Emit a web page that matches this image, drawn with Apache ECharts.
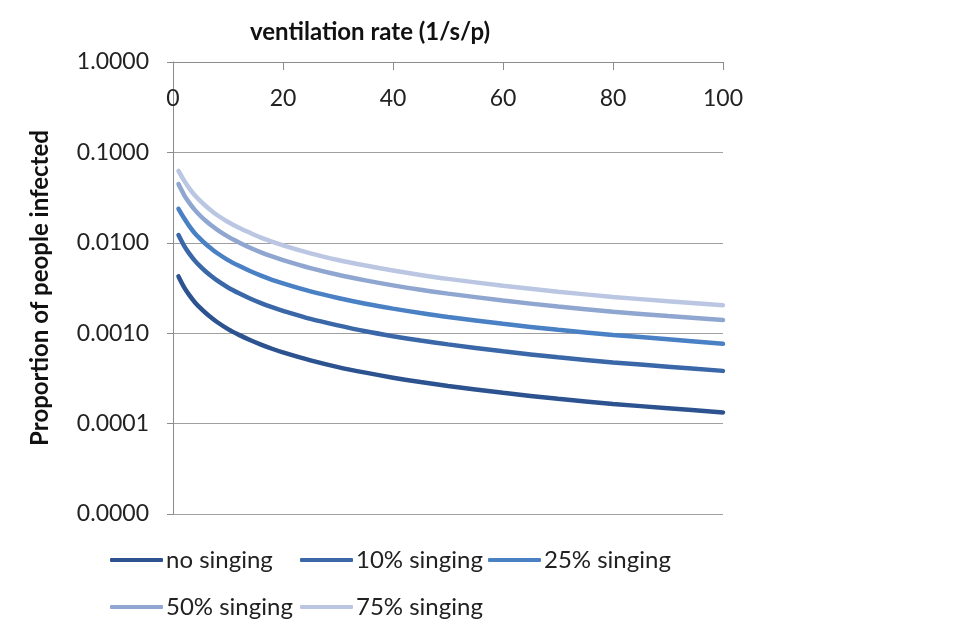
<!DOCTYPE html>
<html>
<head>
<meta charset="utf-8">
<script src="https://cdn.jsdelivr.net/npm/echarts@6/dist/echarts.min.js"></script>
<style>html,body{margin:0;padding:0;background:#fff}#c{width:960px;height:640px}</style>
</head>
<body>
<div id="c"></div>
<script>
var xValues = [1,2,3,4,5,6,7,8,10,12,14,16,18,20,25,30,35,40,45,50,60,70,80,90,100];
var noSinging = [0.00425,0.00324,0.00262,0.00219,0.00189,0.00166,0.00148,0.00133,0.00111,0.000958,0.000840,0.000747,0.000673,0.000613,0.000500,0.000422,0.000366,0.000322,0.000288,0.000261,0.000219,0.000188,0.000165,0.000148,0.000133];
var singing10 = [0.0122,0.00933,0.00755,0.00631,0.00544,0.00478,0.00426,0.00383,0.00320,0.00276,0.00242,0.00215,0.00194,0.00177,0.00144,0.00122,0.00105,0.000927,0.000829,0.000752,0.000631,0.000541,0.000475,0.000426,0.000383];
var singing25 = [0.0238,0.0188,0.0152,0.0127,0.0110,0.00963,0.00858,0.00771,0.00644,0.00556,0.00487,0.00433,0.00390,0.00356,0.00290,0.00245,0.00212,0.00187,0.00167,0.00151,0.00127,0.00109,0.000957,0.000858,0.000765];
var singing50 = [0.0446,0.0340,0.0275,0.0230,0.0198,0.0174,0.0155,0.0140,0.0117,0.0101,0.00882,0.00784,0.00707,0.00644,0.00525,0.00443,0.00384,0.00338,0.00302,0.00274,0.00230,0.00197,0.00173,0.00155,0.00140];
var singing75 = [0.0625,0.0490,0.0398,0.0334,0.0289,0.0254,0.0226,0.0203,0.0170,0.0147,0.0129,0.0114,0.0103,0.00938,0.00765,0.00646,0.00560,0.00493,0.00441,0.00399,0.00335,0.00288,0.00252,0.00226,0.00204];
var seriesNames = ['no singing','10% singing','25% singing','50% singing','75% singing'];
var seriesColors = ['#2C5390','#3A67A8','#4A80C4','#8FA6D0','#BAC6E2'];
var seriesData = [noSinging, singing10, singing25, singing50, singing75];

var font = 'Lato, "Open Sans", sans-serif';
function pairs(ys){ return xValues.map(function(x,i){ return [x, ys[i]]; }); }

var legendPos = [[110,548],[300,548],[488,548],[110,595],[300,595]];
var legends = seriesNames.map(function(n,i){
  return {
    data: [n], left: legendPos[i][0], top: legendPos[i][1],
    icon: 'roundRect', itemWidth: 53, itemHeight: 4, itemGap: 0,
    padding: 0,
    textStyle: {fontFamily: font, fontSize: 24, color: '#222', padding: [0,0,0,-2]}
  };
});

var chart = echarts.init(document.getElementById('c'), null, {renderer: 'canvas'});
chart.setOption({
  animation: false,
  backgroundColor: '#fff',
  title: {
    text: 'ventilation rate (1/s/p)', left: 245, top: 15,
    textStyle: {fontFamily: font, fontSize: 24, fontWeight: 'bold', color: '#111'}
  },
  legend: legends,
  grid: {left: 173, right: 237, top: 62, bottom: 126},
  xAxis: {
    type: 'value', position: 'top', min: 0, max: 100, interval: 20,
    axisLine: {show: true, lineStyle: {color: '#8c8c8c', width: 1}},
    axisTick: {show: true, inside: true, length: 8, lineStyle: {color: '#8c8c8c'}},
    axisLabel: {inside: true, margin: 25, fontFamily: font, fontSize: 23, color: '#222'},
    splitLine: {show: false}
  },
  yAxis: {
    type: 'log', logBase: 10, min: 0.00001, max: 1,
    axisLine: {show: true, lineStyle: {color: '#8c8c8c', width: 1}},
    axisTick: {show: true, length: 6, lineStyle: {color: '#8c8c8c'}},
    axisLabel: {margin: 24, fontFamily: font, fontSize: 23, color: '#222',
      formatter: function(v){ return Number(v).toFixed(4); }},
    splitLine: {show: true, lineStyle: {color: '#a0a0a0', width: 1}},
    name: 'Proportion of people infected', nameLocation: 'middle', nameGap: 121,
    nameRotate: 90,
    nameTextStyle: {fontFamily: font, fontSize: 24, fontWeight: 'bold', color: '#111'}
  },
  series: seriesNames.map(function(n,i){
    return {
      name: n, type: 'line', data: pairs(seriesData[i]),
      showSymbol: false, smooth: 0.3,
      lineStyle: {color: seriesColors[i], width: 4.5, cap: 'round'},
      itemStyle: {color: seriesColors[i]}
    };
  })
});
</script>
</body>
</html>
